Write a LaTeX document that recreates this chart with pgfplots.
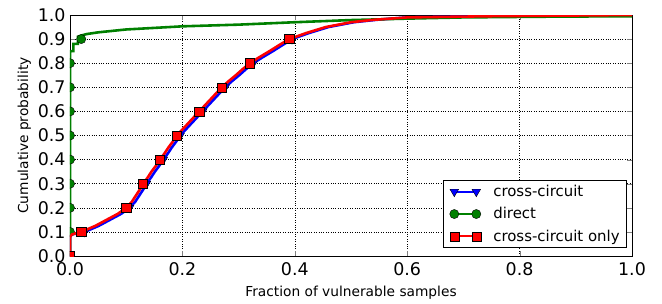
\documentclass[border=0pt]{standalone}
\usepackage{pgfplots}
\pgfplotsset{compat=1.18}
\usepackage{fontspec}
\setmainfont{DejaVu Sans}
\definecolor{mblue}{rgb}{0,0,1}
\definecolor{mgreen}{rgb}{0,0.5,0}
\definecolor{mred}{rgb}{1,0,0}
\begin{document}
\begin{tikzpicture}[x=1bp,y=1bp]
\begin{axis}[
  scale only axis,
  width=562bp, height=241bp,
  xmin=0, xmax=1, ymin=0, ymax=1,
  xtick={0,0.2,0.4,0.6,0.8,1.0},
  ytick={0,0.1,0.2,0.3,0.4,0.5,0.6,0.7,0.8,0.9,1.0},
  xticklabel={\pgfmathprintnumber[fixed,fixed zerofill,precision=1,assume math mode=true]{\tick}},
  yticklabel={\pgfmathprintnumber[fixed,fixed zerofill,precision=1,assume math mode=true]{\tick}},
  xticklabel style={yshift=-3pt},
  yticklabel style={xshift=-1pt},
  tick label style={font=\fontsize{17.5}{21}\selectfont},
  label style={font=\fontsize{13.8}{16}\selectfont},
  xlabel={Fraction of vulnerable samples},
  ylabel={Cumulative probability},
  xlabel style={yshift=-4pt},
  ylabel style={yshift=0pt},
  tick align=inside, xtick pos=both, ytick pos=both,
  major tick length=5bp,
  grid=major,
  grid style={black, dotted, line width=0.6pt},
  axis line style={line width=0.8pt},
  clip mode=individual,
  clip marker paths=true,
  legend cell align=left,
  legend style={at={(0.991,0.033)}, anchor=south east, draw=black, line width=0.6pt, fill=white,
    font=\fontsize{15}{17}\selectfont, row sep=5.5pt, inner xsep=5pt, inner ysep=3pt},
  legend image code/.code={\path (-5bp,0bp) (36bp,0bp); \draw[#1] plot coordinates {(0bp,0bp) (22bp,0bp)};},
]
% cross-circuit (blue) line
\addplot[mblue, line width=2.6pt, forget plot] coordinates {
(0,0) (0,0.08) (0.004,0.09) (0.026,0.10) (0.051,0.125) (0.071,0.15) (0.091,0.175) (0.106,0.20)
(0.116,0.225) (0.123,0.25) (0.130,0.275) (0.136,0.30) (0.144,0.325) (0.151,0.35) (0.159,0.375)
(0.166,0.40) (0.174,0.425) (0.181,0.45) (0.189,0.475) (0.196,0.50) (0.206,0.525) (0.216,0.55)
(0.226,0.575) (0.236,0.60) (0.246,0.625) (0.256,0.65) (0.266,0.675) (0.276,0.70) (0.288,0.725)
(0.301,0.75) (0.313,0.775) (0.326,0.80) (0.343,0.825) (0.361,0.85) (0.378,0.875) (0.395,0.90)
(0.425,0.925) (0.46,0.95) (0.505,0.97) (0.545,0.98) (0.6,0.99) (0.75,0.995) (1.0,1.0)};
\addplot[only marks, mark=triangle*, mark size=5, mark options={rotate=180, fill=mblue, draw=black, line width=0.4pt}, forget plot] coordinates {
(0,0) (0.026,0.1) (0.106,0.2) (0.136,0.3) (0.166,0.4) (0.196,0.5) (0.236,0.6) (0.276,0.7) (0.326,0.8) (0.395,0.9)};
% direct (green) line
\addplot[mgreen, line width=2.6pt, forget plot] coordinates {
(0,0) (0,0.85) (0.006,0.85) (0.006,0.88) (0.014,0.88) (0.014,0.91) (0.02,0.915) (0.03,0.921)
(0.05,0.928) (0.1,0.94) (0.2,0.953) (0.3,0.96) (0.4,0.97) (0.5,0.979) (0.6,0.985) (0.7,0.99)
(0.85,0.993) (1.0,0.995)};
\addplot[only marks, mark=*, mark size=4.6, mark options={fill=mgreen, draw=black, line width=0.4pt}, forget plot] coordinates {
(0,0) (0,0.1) (0,0.2) (0,0.3) (0,0.4) (0,0.5) (0,0.6) (0,0.7) (0,0.8) (0.02,0.9)};
% cross-circuit only (red) line
\addplot[mred, line width=2.6pt, forget plot] coordinates {
(0,0) (0,0.08) (0.004,0.09) (0.02,0.10) (0.045,0.125) (0.065,0.15) (0.085,0.175) (0.10,0.20)
(0.11,0.225) (0.117,0.25) (0.124,0.275) (0.13,0.30) (0.138,0.325) (0.145,0.35) (0.153,0.375)
(0.16,0.40) (0.168,0.425) (0.175,0.45) (0.183,0.475) (0.19,0.50) (0.2,0.525) (0.21,0.55)
(0.22,0.575) (0.23,0.60) (0.24,0.625) (0.25,0.65) (0.26,0.675) (0.27,0.70) (0.282,0.725)
(0.295,0.75) (0.307,0.775) (0.32,0.80) (0.337,0.825) (0.355,0.85) (0.372,0.875) (0.39,0.90)
(0.42,0.925) (0.455,0.95) (0.5,0.97) (0.54,0.98) (0.6,0.99) (0.75,0.995) (1.0,1.0)};
\addplot[only marks, mark=square*, mark size=4.6, mark options={fill=mred, draw=black, line width=0.4pt}, forget plot] coordinates {
(0,0) (0.02,0.1) (0.10,0.2) (0.13,0.3) (0.16,0.4) (0.19,0.5) (0.23,0.6) (0.27,0.7) (0.32,0.8) (0.39,0.9)};
\addlegendimage{mblue, line width=2pt, mark=triangle*, mark size=5, mark options={rotate=180, fill=mblue, draw=black, line width=0.4pt}}
\addlegendentry{cross-circuit}
\addlegendimage{mgreen, line width=2pt, mark=*, mark size=4.6, mark options={fill=mgreen, draw=black, line width=0.4pt}}
\addlegendentry{direct}
\addlegendimage{mred, line width=2pt, mark=square*, mark size=4.6, mark options={fill=mred, draw=black, line width=0.4pt}}
\addlegendentry{cross-circuit only}
\end{axis}
\path ([xshift=-70bp,yshift=-46bp]current axis.south west) rectangle ([xshift=30bp,yshift=15bp]current axis.north east);
\end{tikzpicture}
\end{document}
